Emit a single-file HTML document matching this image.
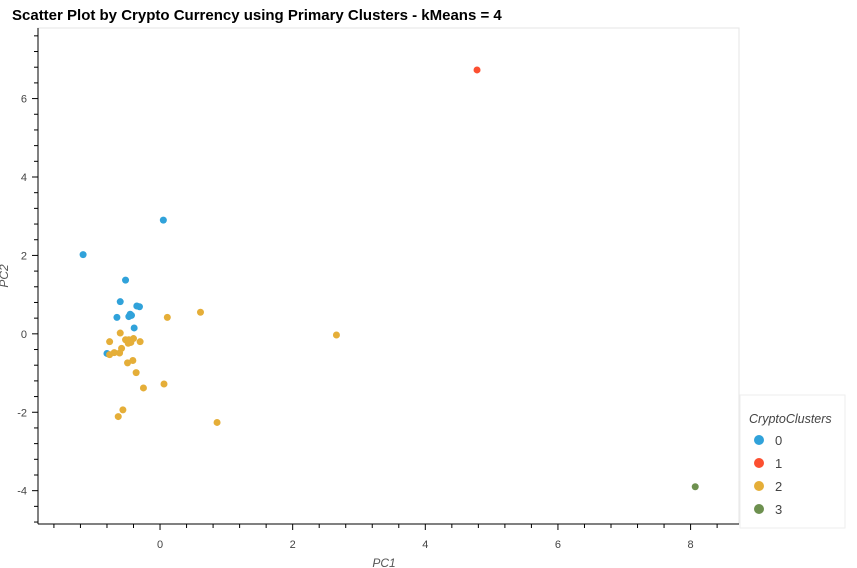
<!DOCTYPE html>
<html><head><meta charset="utf-8"><style>
body{margin:0;background:#fff;font-family:"Liberation Sans",sans-serif}
</style></head><body>
<svg id="chart" width="857" height="568" style="display:block">
<text x="12" y="20" font-size="15" font-weight="bold" fill="#000">Scatter Plot by Crypto Currency using Primary Clusters - kMeans = 4</text>
<rect x="38" y="28" width="701" height="496" fill="none" stroke="#e5e5e5"/>
<g id="marks"></g>
<g id="axes"></g>
<text x="384" y="567" font-size="12" font-style="italic" fill="#555" text-anchor="middle">PC1</text>
<text transform="translate(8,276) rotate(-90)" font-size="12" font-style="italic" fill="#555" text-anchor="middle">PC2</text>
<g>
<rect x="740" y="395" width="105" height="133" fill="#fff" stroke="#eee"/>
<text x="749" y="423" font-size="12.5" font-style="italic" fill="#444">CryptoClusters</text>
<g id="legend-items"></g>
</g>
</svg>
<script>
const clusters=["0","1","2","3"];
const colors=["#30a2da","#fc4f30","#e5ae38","#6d904f"];
const pc1_c0=[-1.16,-0.52,-0.60,-0.35,-0.31,-0.65,-0.45,-0.47,-0.43,-0.39,-0.80,0.05];
const pc2_c0=[2.02,1.37,0.82,0.71,0.69,0.42,0.50,0.44,0.47,0.15,-0.50,2.90];
const pc1_c1=[4.78];
const pc2_c1=[6.73];
const pc1_c2=[0.11,0.61,2.66,-0.60,-0.76,-0.52,-0.47,-0.40,-0.44,-0.48,-0.30,-0.58,-0.61,-0.69,-0.76,-0.41,-0.49,-0.36,0.06,-0.25,-0.56,-0.63,0.86];
const pc2_c2=[0.42,0.55,-0.03,0.02,-0.20,-0.15,-0.15,-0.12,-0.22,-0.24,-0.20,-0.37,-0.49,-0.48,-0.53,-0.68,-0.74,-0.99,-1.28,-1.38,-1.94,-2.11,-2.26];
const pc1_c3=[8.07];
const pc2_c3=[-3.90];
const xTicks=[0,2,4,6,8];
const yTicks=[-4,-2,0,2,4,6];
const NS="http://www.w3.org/2000/svg";
const X0=38,X1=739,Y0=28,Y1=524,xmin=-1.84,xmax=8.73,ymin=-4.85,ymax=7.8;
function sx(v){return X0+(v-xmin)/(xmax-xmin)*(X1-X0);}
function sy(v){return Y1-(v-ymin)/(ymax-ymin)*(Y1-Y0);}
function mk(t,a,p){const e=document.createElementNS(NS,t);for(const k in a)e.setAttribute(k,a[k]);p.appendChild(e);return e;}
const marks=document.getElementById('marks');
const series=[[pc1_c0,pc2_c0],[pc1_c1,pc2_c1],[pc1_c2,pc2_c2],[pc1_c3,pc2_c3]];
series.forEach((s,ci)=>{s[0].forEach((x,i)=>{
 const c=mk('circle',{cx:sx(x),cy:sy(s[1][i]),r:3.5,fill:colors[ci]},marks);
 
 
});});
const ax=document.getElementById('axes');
const xl=mk('line',{x1:X0,y1:Y1,x2:X1,y2:Y1,stroke:'#000'},ax);


const yl=mk('line',{x1:X0,y1:Y0,x2:X0,y2:Y1,stroke:'#000'},ax);


for(let v=-1.6;v<=xmax;v+=0.4){const r=Math.round(v*10)/10;const major=Math.abs(r/2-Math.round(r/2))<1e-6;
 mk('line',{x1:sx(r),x2:sx(r),y1:Y1,y2:Y1+(major?6:4),stroke:'#000'},ax);}
for(let v=-4.8;v<=ymax;v+=0.4){const r=Math.round(v*10)/10;const major=Math.abs(r/2-Math.round(r/2))<1e-6;
 mk('line',{x1:X0,x2:X0-(major?6:4),y1:sy(r),y2:sy(r),stroke:'#000'},ax);}
xTicks.forEach(v=>{const t=mk('text',{x:sx(v),y:Y1+24,'font-size':11,fill:'#444','text-anchor':'middle'},ax);t.textContent=v;
 
 });
yTicks.forEach(v=>{const t=mk('text',{x:X0-11,y:sy(v)+4,'font-size':11,fill:'#444','text-anchor':'end'},ax);t.textContent=v;
 
 });
const lg=document.getElementById('legend-items');
clusters.forEach((c,i)=>{const y=440+i*23;
 const d=mk('circle',{cx:759,cy:y,r:5,fill:colors[i]},lg);
 
 
 const t=mk('text',{x:775,y:y+5,'font-size':13,fill:'#444'},lg);t.textContent=c;
 
 });
</script>
</body></html>
